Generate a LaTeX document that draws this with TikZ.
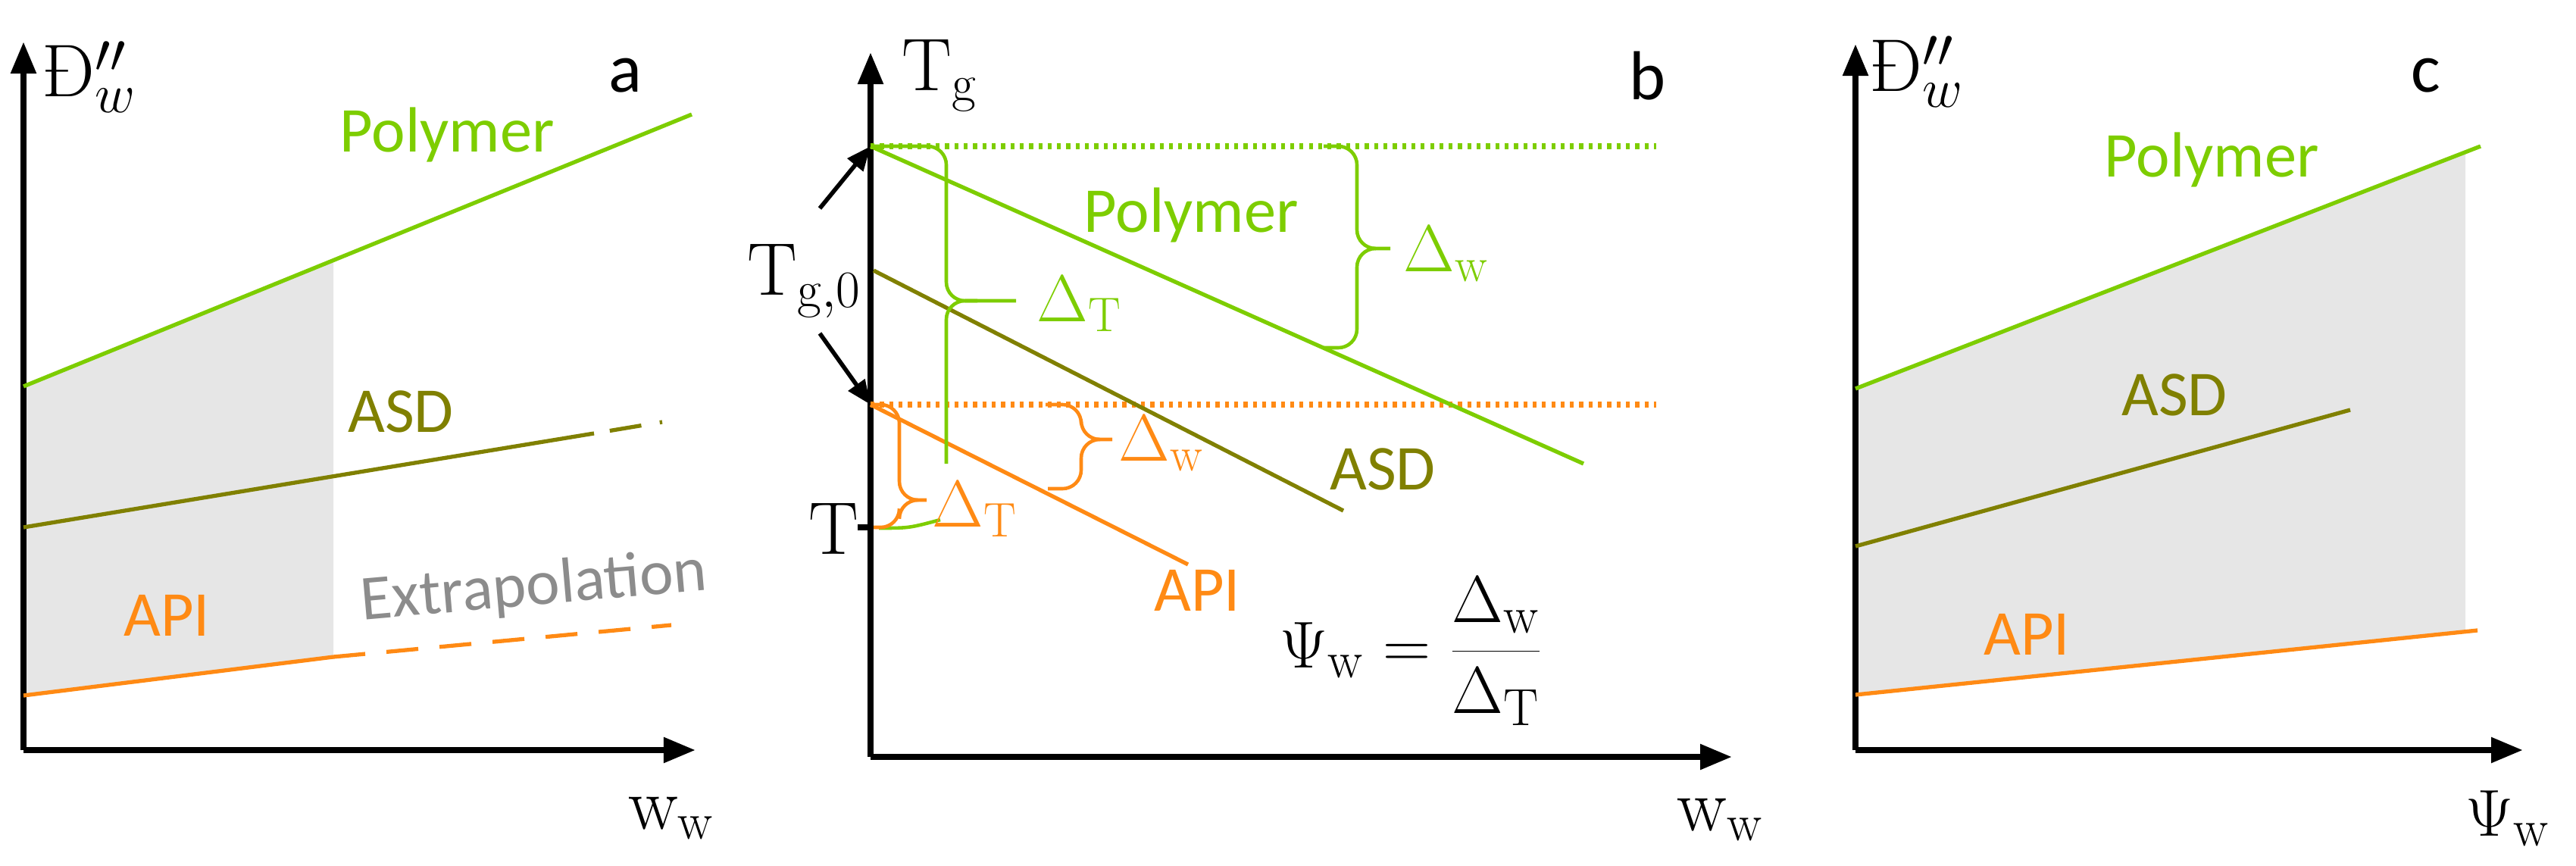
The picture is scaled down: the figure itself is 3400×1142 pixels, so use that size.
\documentclass[tikz,border=0pt]{standalone}
\usepackage{fontspec}
\newfontfamily\lab{Carlito}
\usetikzlibrary{arrows.meta}
\definecolor{pg}{RGB}{125,205,0}
\definecolor{ol}{RGB}{128,128,0}
\definecolor{og}{RGB}{255,138,20}
\definecolor{sh}{RGB}{230,230,230}
\definecolor{ex}{RGB}{140,140,140}
\begin{document}
\begin{tikzpicture}[x=0.01cm,y=-0.01cm,
  axis/.style={line width=2.4pt,-{Triangle[length=0.42cm,width=0.32cm]}},
  curve/.style={line width=1.5pt},
  brc/.style={line width=1.3pt,rounded corners=7pt},
  lbl/.style={font=\lab\fontsize{24}{28}\selectfont,inner sep=0},
  mth/.style={font=\fontsize{28}{32}\selectfont,inner sep=0},
  dl/.style={font=\fontsize{26}{30}\selectfont,inner sep=0},
  pan/.style={font=\lab\fontsize{26}{30}\selectfont,inner sep=0}]
\useasboundingbox (0,0) rectangle (3400,1142);
% ---------- panel a
\coordinate (ao) at (31,990);
\fill[sh] (31,510) -- (440,344) -- (440,867) -- (31,918) -- cycle;
\draw[axis] (ao) -- (31,55);
\draw[axis] (ao) -- (918,990);
\coordinate (ap1) at (31,510); \coordinate (ap2) at (913,151);
\draw[curve,pg] (ap1) -- (ap2);
\coordinate (aa1) at (31,696); \coordinate (aa2) at (784,572); \coordinate (aa3) at (874,557);
\draw[curve,ol] (aa1) -- (aa2);
\draw[curve,ol,dash pattern=on 0pt off 6pt on 12pt off 7pt on 8pt] (aa2) -- (aa3);
\coordinate (ai1) at (31,918); \coordinate (ai2) at (440,867); \coordinate (ai3) at (886,825);
\draw[curve,og] (ai1) -- (ai2);
\draw[curve,og,dash pattern=on 12pt off 8pt] (ai2) -- (ai3);
\node[mth] (aY) at (118,102) {Đ$''_{w}$};
\node[pan] (aL) at (825,100) {a};
\node[lbl,pg] (aP) at (590,178) {Polymer};
\node[lbl,ol] (aA) at (529,543) {ASD};
\node[lbl,og] (aI) at (220,812) {API};
\node[lbl,ex,rotate=5] (aE) at (705,776) {Extrapolation};
\node[mth] (aX) at (886,1080) {w$_{\mathrm{w}}$};
% ---------- panel b
\coordinate (bo) at (1149,999);
\draw[axis] (bo) -- (1149,69);
\draw[axis] (bo) -- (2286,999);
\coordinate (bt0) at (1149,193); \coordinate (bt1) at (1149,534);
\draw[curve,pg,dotted,line width=2pt] (bt0) -- (2186,193);
\draw[curve,og,dotted,line width=2pt] (bt1) -- (2186,534);
\draw[curve,pg] (bt0) -- (2090,612);
\draw[curve,ol] (1153,357) -- (1773,674);
\draw[curve,og] (bt1) -- (1568,745);
% braces
\draw[brc,pg] (1153,193) -- (1249,193) -- (1249,397) -- (1341,397);
\draw[brc,pg] (1249,612) -- (1249,397) -- (1290,397);
\draw[brc,pg] (1747,193) -- (1791,193) -- (1791,328) -- (1835,328);
\draw[brc,pg] (1747,459) -- (1791,459) -- (1791,328) -- (1810,328);
\draw[line width=1.3pt,pg] (1160,697) .. controls (1200,697) .. (1241,686);
\draw[brc,og] (1153,534) -- (1187,534) -- (1187,660) -- (1223,660);
\draw[brc,og] (1153,696) -- (1187,696) -- (1187,660) -- (1205,660);
\draw[brc,og] (1380,534) -- (1427,534) -- (1427,580) -- (1468,580);
\draw[brc,og] (1383,645) -- (1427,645) -- (1427,580) -- (1445,580);
\draw[line width=2pt] (1132,696) -- (1149,696);
\node[mth] (bY) at (1240,100) {T$_{\mathrm{g}}$};
\node[pan] (bL) at (2174,100) {b};
\node[mth] (bT0) at (1062,371) {T$_{\mathrm{g,0}}$};
\node[mth] (bT) at (1100,698) {T};
\draw[line width=1.6pt,-{Triangle[length=0.32cm,width=0.26cm]}] (1082,275) -- (bt0);
\draw[line width=1.6pt,-{Triangle[length=0.32cm,width=0.26cm]}] (1082,440) -- (bt1);
\node[lbl,pg] (bP) at (1572,284) {Polymer};
\node[lbl,ol] (bA) at (1825,619) {ASD};
\node[lbl,og] (bI) at (1580,779) {API};
\node[dl,pg,anchor=west] (bDT) at (1368,401) {$\Delta_{\mathrm{T}}$};
\node[dl,pg,anchor=west] (bDW) at (1852,335) {$\Delta_{\mathrm{w}}$};
\node[dl,og,anchor=west] (oDT) at (1230,672) {$\Delta_{\mathrm{T}}$};
\node[dl,og,anchor=west] (oDW) at (1476,585) {$\Delta_{\mathrm{w}}$};
\node[mth] (bF) at (1863,860) {$\Psi_{\mathrm{w}}=\displaystyle\frac{\Delta_{\mathrm{w}}}{\Delta_{\mathrm{T}}}$};
\node[mth] (bX) at (2270,1082) {w$_{\mathrm{w}}$};
% ---------- panel c
\coordinate (co) at (2449,990);
\fill[sh] (2449,513) -- (3254,201) -- (3254,834) -- (2449,917) -- cycle;
\draw[axis] (co) -- (2449,58);
\draw[axis] (co) -- (3330,990);
\draw[curve,pg] (2449,513) -- (3274,193);
\draw[curve,ol] (2449,721) -- (3102,541);
\draw[curve,og] (2449,917) -- (3270,832);
\node[mth] (cY) at (2530,95) {Đ$''_{w}$};
\node[pan] (cL) at (3202,100) {c};
\node[lbl,pg] (cP) at (2919,211) {Polymer};
\node[lbl,ol] (cA) at (2870,521) {ASD};
\node[lbl,og] (cI) at (2675,837) {API};
\node[mth] (cX) at (3310,1080) {$\Psi_{\mathrm{w}}$};
\end{tikzpicture}
\end{document}
